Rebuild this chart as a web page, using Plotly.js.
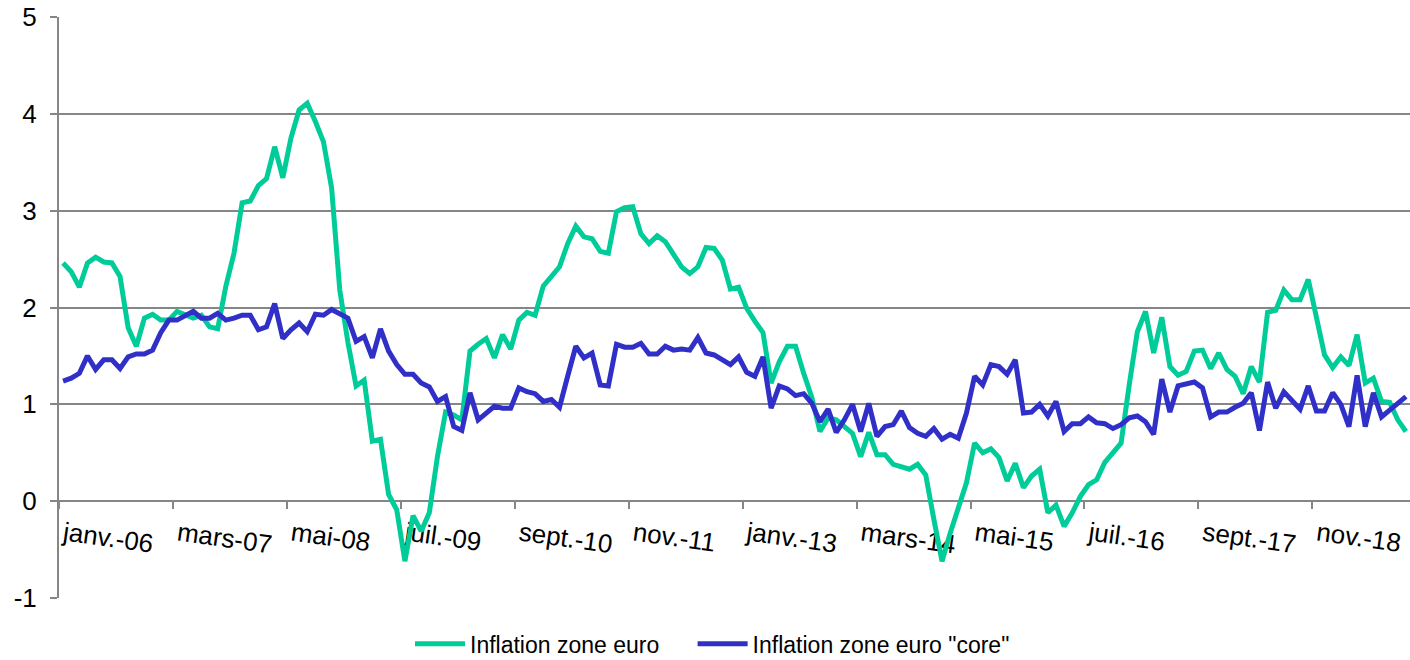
<!DOCTYPE html>
<html>
<head>
<meta charset="utf-8">
<script src="https://cdn.plot.ly/plotly-3.0.1.min.js"></script>
<style>
  html, body { margin: 0; padding: 0; background: #ffffff; }
  #chart { width: 1410px; height: 660px; }
</style>
</head>
<body>
<div id="chart"></div>
<script>
// Monthly observations, janv. 2006 -> oct. 2019
const startYear = 2006;
const startMonth = 1;

const inflationHeadline = [
  2.46, 2.37, 2.21, 2.46, 2.52, 2.47, 2.46, 2.32, 1.79, 1.60, 1.89, 1.93,
  1.87, 1.87, 1.96, 1.93, 1.89, 1.92, 1.80, 1.78, 2.22, 2.56, 3.08, 3.10,
  3.26, 3.33, 3.66, 3.34, 3.75, 4.04, 4.11, 3.92, 3.71, 3.23, 2.18, 1.64,
  1.19, 1.25, 0.62, 0.64, 0.07, -0.09, -0.62, -0.15, -0.31, -0.12, 0.46, 0.92,
  0.89, 0.84, 1.55, 1.62, 1.68, 1.48, 1.72, 1.57, 1.87, 1.95, 1.92, 2.22,
  2.32, 2.42, 2.66, 2.84, 2.73, 2.71, 2.58, 2.56, 2.99, 3.03, 3.04, 2.76,
  2.66, 2.74, 2.68, 2.56, 2.42, 2.35, 2.42, 2.62, 2.61, 2.49, 2.19, 2.21,
  1.99, 1.86, 1.74, 1.22, 1.44, 1.60, 1.60, 1.32, 1.07, 0.72, 0.86, 0.84,
  0.77, 0.70, 0.46, 0.71, 0.48, 0.48, 0.38, 0.36, 0.33, 0.38, 0.27, -0.19,
  -0.62, -0.33, -0.05, 0.19, 0.60, 0.50, 0.54, 0.45, 0.21, 0.39, 0.14, 0.26,
  0.33, -0.12, -0.04, -0.26, -0.12, 0.05, 0.17, 0.22, 0.40, 0.50, 0.60, 1.20,
  1.75, 1.96, 1.53, 1.90, 1.39, 1.30, 1.34, 1.55, 1.56, 1.37, 1.53, 1.36,
  1.29, 1.11, 1.39, 1.23, 1.95, 1.97, 2.18, 2.08, 2.08, 2.29, 1.91, 1.51,
  1.38, 1.49, 1.40, 1.72, 1.22, 1.27, 1.03, 1.02, 0.84, 0.72
];

const inflationCore = [
  1.24, 1.27, 1.32, 1.50, 1.36, 1.46, 1.46, 1.37, 1.49, 1.52, 1.52, 1.56,
  1.74, 1.87, 1.87, 1.92, 1.96, 1.89, 1.89, 1.94, 1.87, 1.89, 1.92, 1.92,
  1.77, 1.80, 2.04, 1.68, 1.77, 1.84, 1.75, 1.93, 1.92, 1.98, 1.93, 1.89,
  1.65, 1.70, 1.48, 1.78, 1.55, 1.41, 1.31, 1.31, 1.22, 1.18, 1.03, 1.08,
  0.77, 0.73, 1.12, 0.84, 0.91, 0.98, 0.96, 0.96, 1.17, 1.13, 1.11, 1.03,
  1.05, 0.97, 1.29, 1.60, 1.48, 1.53, 1.20, 1.19, 1.62, 1.59, 1.59, 1.63,
  1.52, 1.52, 1.60, 1.56, 1.57, 1.56, 1.69, 1.53, 1.51, 1.46, 1.41, 1.49,
  1.33, 1.29, 1.49, 0.96, 1.19, 1.16, 1.09, 1.11, 1.01, 0.82, 0.95, 0.71,
  0.84, 1.00, 0.72, 1.01, 0.67, 0.77, 0.79, 0.93, 0.76, 0.70, 0.67, 0.75,
  0.64, 0.69, 0.65, 0.91, 1.29, 1.20, 1.41, 1.39, 1.31, 1.46, 0.91, 0.92,
  1.00, 0.88, 1.03, 0.72, 0.80, 0.80, 0.87, 0.81, 0.80, 0.75, 0.79, 0.86,
  0.88, 0.82, 0.69, 1.26, 0.92, 1.19, 1.21, 1.23, 1.17, 0.87, 0.92, 0.92,
  0.97, 1.01, 1.12, 0.73, 1.23, 0.96, 1.13, 1.03, 0.95, 1.19, 0.93, 0.93,
  1.12, 1.00, 0.77, 1.30, 0.77, 1.12, 0.87, 0.94, 1.01, 1.08
];

const tickLabels = [
  'janv.-06', 'mars-07', 'mai-08', 'juil.-09', 'sept.-10', 'nov.-11',
  'janv.-13', 'mars-14', 'mai-15', 'juil.-16', 'sept.-17', 'nov.-18'
];
const tickStepMonths = 14;

const yTickVals = [-1, 0, 1, 2, 3, 4, 5];
const yTickText = ['-1', '0', '1', '2', '3', '4', '5'];

const seriesNames = ['Inflation zone euro', 'Inflation zone euro "core"'];
const seriesColors = ['#00CC99', '#3030C8'];

// month index for each observation
const monthIndex = inflationHeadline.map((_, i) => i);
const monthText = monthIndex.map(i => {
  const m = (startMonth - 1 + i) % 12 + 1;
  const y = startYear + Math.floor((startMonth - 1 + i) / 12);
  return y + '-' + String(m).padStart(2, '0');
});
const tickVals = tickLabels.map((_, k) => k * tickStepMonths - 0.5);

const FONT = 'Liberation Sans, Arial, Helvetica, sans-serif';
const GRID = '#868686';

const traces = [
  {
    x: monthIndex, y: inflationHeadline, text: monthText,
    name: seriesNames[0], type: 'scatter', mode: 'lines',
    line: { color: seriesColors[0], width: 5, shape: 'linear' },
    legend: 'legend',
    hovertemplate: '%{text}: %{y}<extra></extra>'
  },
  {
    x: monthIndex, y: inflationCore, text: monthText,
    name: seriesNames[1], type: 'scatter', mode: 'lines',
    line: { color: seriesColors[1], width: 5, shape: 'linear' },
    legend: 'legend2',
    hovertemplate: '%{text}: %{y}<extra></extra>'
  }
];

const yMin = yTickVals[0], yMax = yTickVals[yTickVals.length - 1];

const legendCommon = {
  orientation: 'h', y: -0.079, yanchor: 'middle', xanchor: 'left',
  font: { family: FONT, size: 23, color: '#000000' },
  bgcolor: 'rgba(0,0,0,0)', borderwidth: 0,
  itemwidth: 50
};

const layout = {
  width: 1410, height: 660,
  margin: { l: 59, r: 0, t: 17, b: 62, pad: 0, autoexpand: false },
  paper_bgcolor: '#ffffff', plot_bgcolor: '#ffffff',
  font: { family: FONT, size: 24, color: '#000000' },
  showlegend: true,
  legend: Object.assign({}, legendCommon, { x: 0.2598 }),
  legend2: Object.assign({}, legendCommon, { x: 0.4690 }),
  xaxis: {
    type: 'linear',
    range: [-0.5, monthIndex.length - 0.5],
    anchor: 'free',
    position: (0 - yMin) / (yMax - yMin),
    showgrid: false, zeroline: false,
    showline: true, linecolor: GRID, linewidth: 2,
    ticks: 'outside', ticklen: 7, tickwidth: 2, tickcolor: GRID,
    tickmode: 'array', tickvals: tickVals, ticktext: tickLabels,
    tickangle: 8,
    ticklabelstandoff: 0,
    ticklabelshift: 5,
    tickfont: { family: FONT, size: 26, color: '#000000' },
    layer: 'below traces',
    fixedrange: true, automargin: false
  },
  yaxis: {
    range: [yMin, yMax],
    tickmode: 'array', tickvals: yTickVals, ticktext: yTickText,
    showgrid: true, gridcolor: GRID, gridwidth: 2,
    zeroline: false,
    showline: true, linecolor: GRID, linewidth: 2,
    ticks: 'outside', ticklen: 7, tickwidth: 2, tickcolor: GRID,
    tickfont: { family: FONT, size: 26, color: '#000000' },
    ticklabelstandoff: 8,
    layer: 'below traces',
    fixedrange: true, automargin: false
  }
};

Plotly.newPlot('chart', traces, layout, { displayModeBar: false, staticPlot: true });
</script>
</body>
</html>
